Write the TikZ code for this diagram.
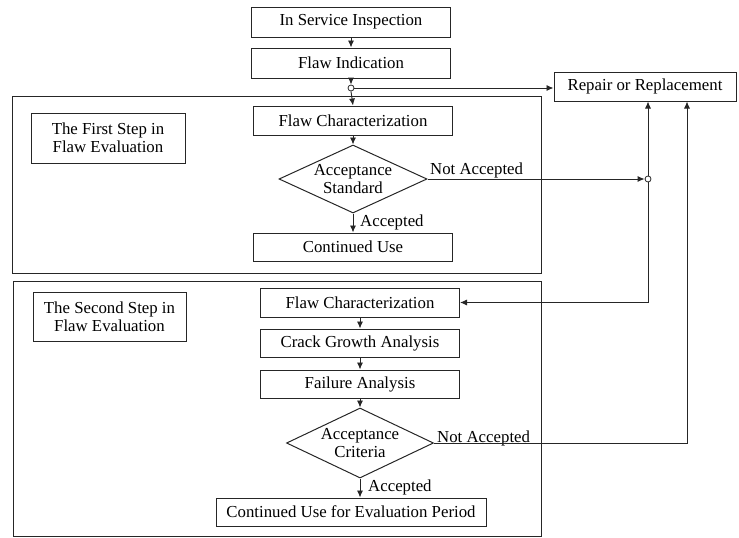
\documentclass[tikz,border=0pt]{standalone}
\usepackage{fontspec}
\setmainfont{Liberation Serif}
\usetikzlibrary{shapes.geometric,arrows.meta}
\begin{document}
\begin{tikzpicture}[x=1pt,y=-1pt,
  font=\fontsize{16.8}{17.5}\selectfont,
  ln/.style={draw=black!85, line width=0.9pt},
  arr/.style={ln, -{Latex[length=7pt,width=6pt]}},
  box/.style={draw=black!85, line width=1pt, inner sep=2pt, anchor=center},
  frame/.style={draw=black!85, line width=1pt, inner sep=0pt},
  dia/.style={diamond, draw=black!85, line width=1pt, aspect=2.15, inner sep=0pt, align=center},
  junc/.style={circle, draw=black!85, fill=white, line width=0.8pt, inner sep=0pt, minimum size=6pt},
  lbl/.style={inner sep=0pt}]
\useasboundingbox (0,0) rectangle (739,538);

% frames
\node[frame, minimum width=529pt, minimum height=177pt] (f1) at (276.5,184.5) {};
\node[frame, minimum width=528pt, minimum height=255pt] (f2) at (277,408.5) {};

% top
\node[box, minimum width=199pt, minimum height=30pt] (isi) at (351,22) {In Service Inspection};
\node[box, minimum width=199pt, minimum height=30pt] (fi) at (351,63) {Flaw Indication};
\node[junc] (j1) at (351,88) {};
\node[box, minimum width=182pt, minimum height=29pt] (rr) at (645,86.5) {Repair or Replacement};

% first step
\node[box, minimum width=154pt, minimum height=50pt, align=center] (lab1) at (108,138) {The First Step in\\Flaw Evaluation};
\node[box, minimum width=199pt, minimum height=29pt] (fc1) at (353,120.5) {Flaw Characterization};
\node[dia, minimum width=148pt, minimum height=68pt] (d1) at (353,179) {Acceptance\\Standard};
\node[box, minimum width=199pt, minimum height=28pt] (cu1) at (353,247) {Continued Use};
\node[junc] (j2) at (648,179) {};

% second step
\node[box, minimum width=153pt, minimum height=49pt, align=center] (lab2) at (109.5,316.5) {The Second Step in\\Flaw Evaluation};
\node[box, minimum width=199pt, minimum height=29pt] (fc2) at (360,302.5) {Flaw Characterization};
\node[box, minimum width=199pt, minimum height=28pt] (cga) at (360,343) {Crack Growth Analysis};
\node[box, minimum width=199pt, minimum height=28pt] (fa) at (360,384) {Failure Analysis};
\node[dia, minimum width=147pt, minimum height=70pt] (d2) at (360,443) {Acceptance\\Criteria};
\node[box, minimum width=270pt, minimum height=28pt] (cu2) at (351,512) {Continued Use for Evaluation Period};
\coordinate (k) at (687,0);

% labels
\node[lbl, anchor=base west] (na1) at (430,174) {Not Accepted};
\node[lbl, anchor=base west] (na2) at (437,442) {Not Accepted};
\node[lbl, anchor=base west] (ac1) at (360,226) {Accepted};
\node[lbl, anchor=base west] (ac2) at (368,491) {Accepted};

% connectors
\draw[arr] (isi.south) -- (fi.north);
\draw[arr] (fi.south) -- (j1.north);
\draw[arr] (j1.south) -- (fc1.north);
\draw[arr] (j1.east) -- (j1 -| rr.west);
\draw[arr] (fc1.south) -- (d1.north);
\draw[arr] (d1.south) -- (cu1.north);
\draw[arr] (d1.east) -- (j2.west);
\draw[arr] (j2.north) -- (j2 |- rr.south);
\draw[arr] (j2.south) |- (fc2.east);
\draw[arr] (fc2.south) -- (cga.north);
\draw[arr] (cga.south) -- (fa.north);
\draw[arr] (fa.south) -- (d2.north);
\draw[arr] (d2.south) -- (d2.south |- cu2.north);
\draw[arr] (d2.east) -| (k |- rr.south);
\end{tikzpicture}
\end{document}
